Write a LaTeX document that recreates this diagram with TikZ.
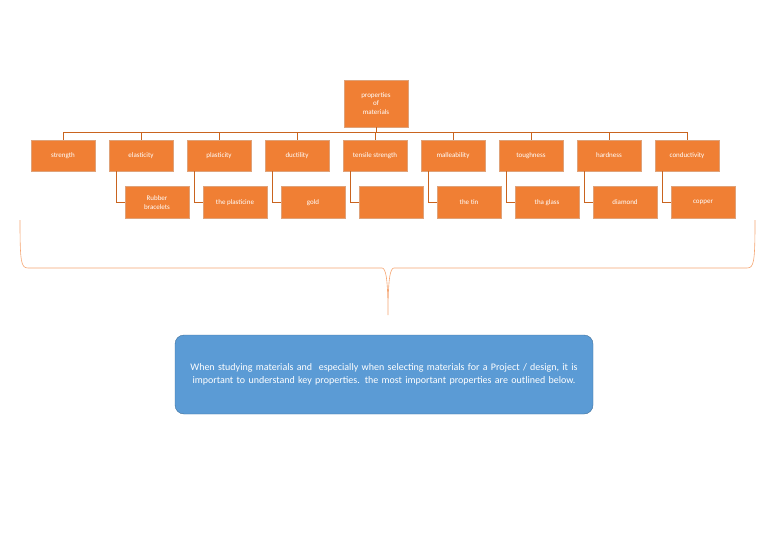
\documentclass[tikz,border=0pt]{standalone}
\usepackage{fontspec}
\setmainfont{Carlito}
\usetikzlibrary{positioning}
\definecolor{orng}{HTML}{F07F34}
\definecolor{orngline}{HTML}{C9641F}
\definecolor{blu}{HTML}{5B9BD5}
\definecolor{bluline}{HTML}{41719C}
\tikzset{
  box/.style = {draw = orngline!60, fill = orng, text = white, font = \fontsize{7}{8.5}\selectfont, minimum width = 64pt, minimum height = 31pt, inner sep = 1pt, align = center},
  link/.style = {draw = orngline, line width = .6pt}
}
\begin{document}
\begin{tikzpicture}[x = 1pt, y = -1pt]
\useasboundingbox (0,0) rectangle (768,543);
\node[box, minimum height = 47pt] (root) at (376,103.5) {properties\\of\\materials};
\foreach \name/\lbl [count = \i] in {str/strength, ela/elasticity, pla/plasticity, duc/ductility, ten/tensile strength, mal/malleability, tou/toughness, har/hardness, con/conductivity}
{
  \node[box] (\name) at ({63 + 78*(\i-1)}, 155.5) {\lbl};
  \draw[link] (root.south) |- ++(0,5) -| (\name.north);
}
\foreach \name/\lbl in {ela/{Rubber\\bracelets}, pla/the plasticine, duc/gold, ten/{}, mal/the tin, tou/tha glass, har/diamond, con/copper}
{
  \node[box, minimum height = 32pt, anchor = north west] (\name ex) at ([xshift = 16pt, yshift = -15pt]\name.south west) {\lbl};
  \draw[link] ([xshift = 7pt]\name.south west) |- (\name ex.west);
}
% brace
\draw[orng!70, line width = .6pt] (20,220) .. controls (20,262) and (21,268) .. (28,268) -- (382,268) .. controls (386,268) and (388,280) .. (388,315) .. controls (388,280) and (390,268) .. (394,268) -- (747,268) .. controls (754,268) and (755,262) .. (755,220);
\node[draw = bluline, fill = blu, rounded corners = 9pt, minimum width = 418pt, minimum height = 79pt, text width = 400pt, align = center, text = white, font = \fontsize{10}{13}\selectfont] (note) at (384,374.5) {When studying materials and \ especially when selecting materials for a Project / design, it is important to understand key properties. the most important properties are outlined below.};
\end{tikzpicture}
\end{document}
